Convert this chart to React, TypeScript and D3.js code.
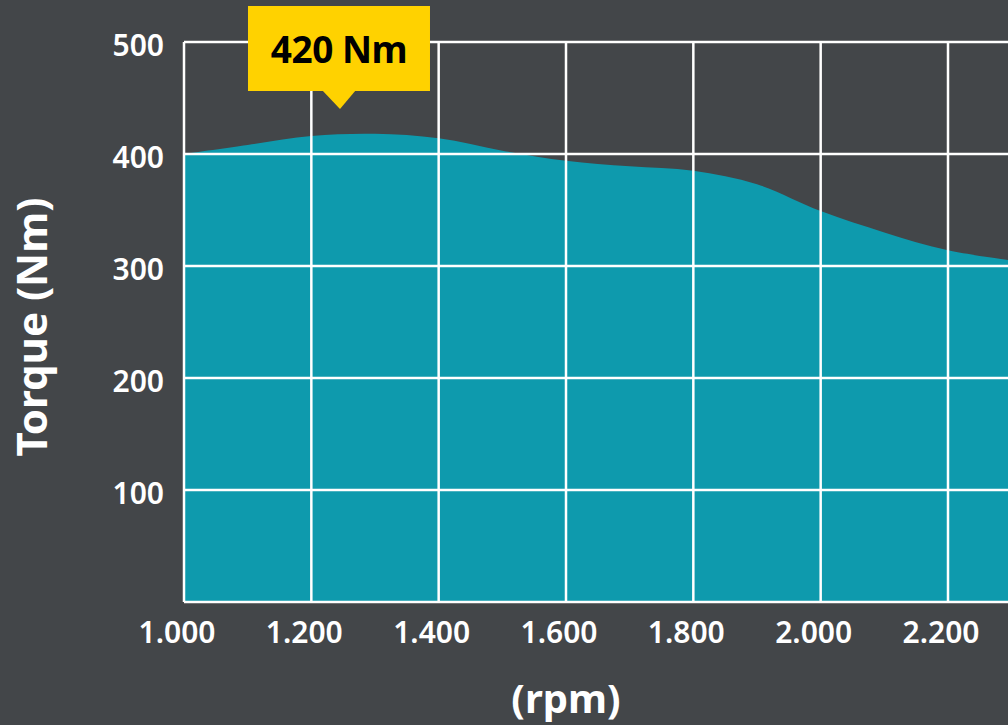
import React from "react";
import * as d3 from "d3";

const rpm = [1000, 1100, 1200, 1300, 1400, 1500, 1600, 1700, 1800, 1900, 2000, 2100, 2200, 2300];
const torque = [400, 408, 416, 418, 414, 403, 394, 389, 385, 373, 349, 330, 314, 305];
const xTicks = [1000, 1200, 1400, 1600, 1800, 2000, 2200];
const yTicks = [100, 200, 300, 400, 500];
const peakRpm = 1245;
const peakLabel = "420 Nm";
const yTitle = "Torque (Nm)";
const xTitle = "(rpm)";

const W = 1008;
const H = 725;
const BG = "#434649";
const FILL = "#0e9aad";
const YELLOW = "#ffd200";
const FONT = "'Noto Sans', sans-serif";

export default function App() {
  const x = d3.scaleLinear().domain([1000, 2200]).range([184, 948]);
  const y = d3.scaleLinear().domain([0, 500]).range([602, 42]);
  const data = rpm.map((r, i) => ({ r, t: torque[i] }));
  const area = d3
    .area<{ r: number; t: number }>()
    .x((d) => x(d.r))
    .y0(y(0))
    .y1((d) => y(d.t))
    .curve(d3.curveCatmullRom.alpha(0.5));
  const fmt = d3
    .formatLocale({ decimal: ",", thousands: ".", grouping: [3], currency: ["", ""] })
    .format(",");
  const left = x(1000);
  const tipX = x(peakRpm);
  const tipY = 109;
  const boxTop = 6;
  const boxBottom = 91;
  const boxL = tipX - 92;
  const boxR = tipX + 90;

  return (
    <div style={{ position: "fixed", left: 0, top: 0, width: W, height: H }}>
      <svg width={W} height={H} style={{ display: "block" }}>
        <rect x={0} y={0} width={W} height={H} fill={BG} />
        <path d={area(data) || ""} fill={FILL} />
        {yTicks.map((v) => (
          <line key={"h" + v} x1={left} x2={W} y1={y(v)} y2={y(v)} stroke="#fff" strokeWidth={2.5} />
        ))}
        <line x1={left} x2={W} y1={y(0)} y2={y(0)} stroke="#fff" strokeWidth={2.5} />
        {xTicks.map((v) => (
          <line key={"v" + v} x1={x(v)} x2={x(v)} y1={y(500)} y2={y(0)} stroke="#fff" strokeWidth={2.5} />
        ))}
        {yTicks.map((v) => (
          <text
            key={"yl" + v}
            x={164}
            y={y(v) + 14}
            textAnchor="end"
            fill="#fff"
            fontFamily={FONT}
            fontWeight={600}
            fontSize={30}
          >
            {v}
          </text>
        ))}
        {xTicks.map((v) => (
          <text
            key={"xl" + v}
            x={x(v) - 7}
            y={643}
            textAnchor="middle"
            fill="#fff"
            fontFamily={FONT}
            fontWeight={600}
            fontSize={30}
          >
            {fmt(v)}
          </text>
        ))}
        <text
          transform={`translate(47,327) rotate(-90)`}
          textAnchor="middle"
          fill="#fff"
          fontFamily={FONT}
          fontWeight={700}
          fontSize={42}
        >
          {yTitle}
        </text>
        <text
          x={566}
          y={713}
          textAnchor="middle"
          fill="#fff"
          fontFamily={FONT}
          fontWeight={700}
          fontSize={40}
        >
          {xTitle}
        </text>
        <rect x={boxL} y={boxTop} width={boxR - boxL} height={boxBottom - boxTop} fill={YELLOW} />
        <path
          d={`M${tipX - 18},${boxBottom - 1} L${tipX + 16},${boxBottom - 1} L${tipX},${tipY} Z`}
          fill={YELLOW}
        />
        <text
          x={tipX - 1}
          y={63}
          textAnchor="middle"
          fill="#000"
          fontFamily={FONT}
          fontWeight={700}
          fontSize={37}
          letterSpacing={-0.5}
        >
          {peakLabel}
        </text>
      </svg>
    </div>
  );
}
